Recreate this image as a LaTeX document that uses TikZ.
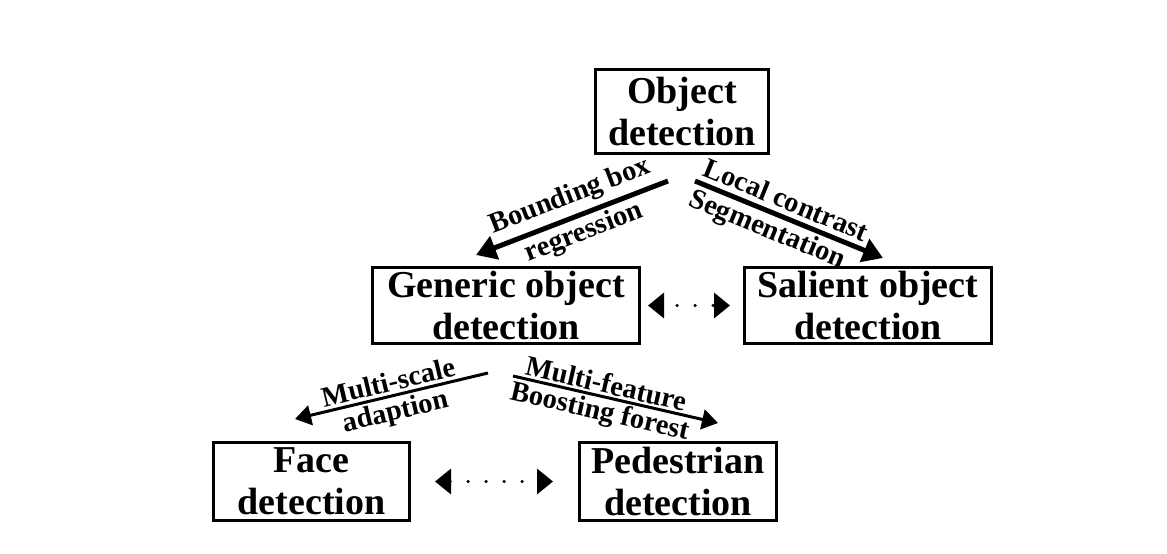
\documentclass[tikz,border=0pt]{standalone}
\usepackage{fontspec}
\setmainfont{Liberation Serif}
\usetikzlibrary{arrows.meta}
\tikzset{
  box/.style={draw, line width=3pt, align=center, inner sep=0pt,
    font=\bfseries\fontsize{38}{42}\selectfont},
  lbl/.style={font=\bfseries\fontsize{28.5}{30}\selectfont, inner sep=1pt},
  bigarrow/.style={line width=5pt, -{Triangle[length=20pt,width=24pt]}},
  smallarrow/.style={line width=3pt, -{Triangle[length=16pt,width=20pt]}},
  dotarrow/.style={line width=3.5pt, line cap=round, dash pattern=on 0pt off 18pt,
    {Triangle[length=16pt,width=25pt]}-{Triangle[length=16pt,width=25pt]}}
}
\begin{document}
\begin{tikzpicture}[x=1pt,y=-1pt]
   \useasboundingbox (0,0) rectangle (1167,554);
   % boxes
   \node[box, minimum width=173pt, minimum height=84pt] (od) at (682,111.5) {Object\\detection};
   \node[box, minimum width=267pt, minimum height=76pt] (gen) at (506,305.5) {Generic object\\detection};
   \node[box, minimum width=247pt, minimum height=76pt] (sal) at (868,305.5) {Salient object\\detection};
   \node[box, minimum width=196pt, minimum height=78pt] (face) at (311.5,481.5) {Face\\detection};
   \node[box, minimum width=197pt, minimum height=78pt] (ped) at (678,481.5) {Pedestrian\\detection};
   % arrow ends
   \coordinate (bbs) at (668,181);
   \coordinate (bbe) at (476,255);
   \coordinate (lcs) at (695,181);
   \coordinate (lce) at (883,258);
   \coordinate (mss) at (488,373);
   \coordinate (mse) at (295,419);
   \coordinate (mfs) at (513,376);
   \coordinate (mfe) at (718,423);
   % arrows with labels
   \draw[bigarrow] (bbs) -- (bbe)
      node[lbl, pos=0.47, sloped, above=4pt] {Bounding box}
      node[lbl, pos=0.47, sloped, below=2pt] {regression};
   \draw[bigarrow] (lcs) -- (lce)
      node[lbl, pos=0.45, sloped, above=4pt] {Local contrast}
      node[lbl, pos=0.42, sloped, below=2pt] {Segmentation};
   \draw[smallarrow] (mss) -- (mse)
      node[lbl, pos=0.5, sloped, above=2pt] {Multi-scale}
      node[lbl, pos=0.5, sloped, below=2pt] {adaption};
   \draw[smallarrow] (mfs) -- (mfe)
      node[lbl, pos=0.44, sloped, above=1pt] {Multi-feature}
      node[lbl, pos=0.44, sloped, below=1pt] {Boosting forest};
   % dotted links
   \draw[dotarrow, dash phase=4pt, shorten <=7pt, shorten >=13pt] (gen.east) -- (sal.west);
   \draw[dotarrow, shorten <=24pt, shorten >=25pt] (face.east) -- (ped.west);
\end{tikzpicture}
\end{document}
